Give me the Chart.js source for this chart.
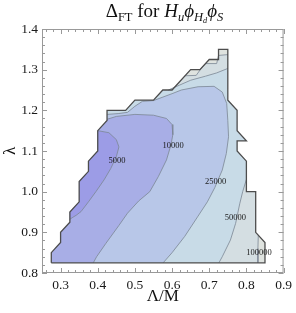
<!DOCTYPE html>
<html>
<head>
<meta charset="utf-8">
<script src="https://cdn.jsdelivr.net/npm/chart.js@4.4.0/dist/chart.umd.min.js"></script>
<style>
  body { margin: 0; background: #fff; }
  #wrap { position: relative; width: 296px; height: 313px; }
  #title {
    position: absolute; left: 42px; top: 0px; width: 245px; text-align: center;
    font: 19px 'Liberation Serif', serif; color: #111; white-space: nowrap;
  }
  #title sub { font-size: 66%; vertical-align: -0.3em; line-height: 0; }
</style>
</head>
<body>
<div id="wrap">
  <canvas id="chart" width="296" height="313"></canvas>
  <div id="title">&Delta;<sub>FT</sub> for <i>H<sub>u</sub>&#x3D5;<sub>H<sub>d</sub></sub>&#x3D5;<sub>S</sub></i></div>
</div>
<script>
'use strict';
// data (x = Λ/M, y = λ)

// outer edge of the scanned region, going round
const edge = [
  [0.275, 0.825], [0.275, 0.85], [0.3, 0.875], [0.3, 0.9], [0.325, 0.925],
  [0.325, 0.95], [0.35, 0.975], [0.35, 1.025], [0.375, 1.05], [0.375, 1.075],
  [0.4, 1.1], [0.4, 1.15], [0.425, 1.175], [0.425, 1.2], [0.475, 1.2],
  [0.5, 1.225], [0.55, 1.225], [0.575, 1.25], [0.6, 1.25], [0.65, 1.3],
  [0.675, 1.3], [0.7, 1.325], [0.725, 1.325], [0.725, 1.35], [0.75, 1.35],
  [0.75, 1.225], [0.775, 1.2], [0.775, 1.15], [0.8, 1.125], [0.775, 1.125],
  [0.775, 1.1], [0.8, 1.075], [0.8, 1.0], [0.825, 1.0], [0.825, 0.9],
  [0.85, 0.875], [0.85, 0.825]
];

// contour lines
const c5000 = [
  [0.43, 1.145], [0.45, 1.128], [0.457, 1.11], [0.45, 1.086], [0.435, 1.057],
  [0.417, 1.029], [0.395, 1.0], [0.375, 0.975], [0.355, 0.951], [0.342, 0.942],
  [0.333, 0.937], [0.325, 0.932]
];
const c10000 = [
  [0.425, 1.178], [0.45, 1.185], [0.5, 1.19], [0.55, 1.188], [0.585, 1.18],
  [0.6, 1.165], [0.602, 1.14], [0.597, 1.115], [0.585, 1.078], [0.563, 1.037],
  [0.54, 1.0], [0.51, 0.977], [0.48, 0.947], [0.457, 0.917], [0.422, 0.873],
  [0.397, 0.84], [0.388, 0.825]
];
const c25000 = [
  [0.425, 1.19], [0.455, 1.192], [0.48, 1.195], [0.5, 1.21], [0.52, 1.222],
  [0.55, 1.224], [0.6, 1.241], [0.625, 1.25], [0.67, 1.258], [0.713, 1.259],
  [0.735, 1.245], [0.747, 1.217], [0.75, 1.175], [0.752, 1.135], [0.746, 1.094],
  [0.735, 1.053], [0.715, 1.01], [0.695, 0.975], [0.67, 0.94], [0.634, 0.89],
  [0.6, 0.85], [0.576, 0.825]
];
const c50000top = [
  [0.59, 1.25], [0.62, 1.262], [0.65, 1.274], [0.69, 1.284], [0.72, 1.292], [0.75, 1.303]
];
const c50000side = [
  [0.8, 1.03], [0.79, 1.0], [0.782, 0.97], [0.771, 0.922], [0.757, 0.881],
  [0.735, 0.84], [0.726, 0.825]
];
const c100000top = [
  [0.635, 1.285], [0.665, 1.286], [0.679, 1.304], [0.69, 1.315], [0.72, 1.315],
  [0.725, 1.335], [0.75, 1.337]
];
const c100000side = [[0.832, 0.893], [0.831, 0.86], [0.831, 0.825]];

// contour labels and where they sit
const levelNames = ['5000', '10000', '25000', '50000', '100000'];
const labelX = [0.452, 0.603, 0.717, 0.77, 0.834];
const labelY = [1.075, 1.112, 1.024, 0.935, 0.849];

// tick labels
const xTicks = [0.3, 0.4, 0.5, 0.6, 0.7, 0.8, 0.9];
const yTicks = [0.8, 0.9, 1.0, 1.1, 1.2, 1.3, 1.4];

// regions below each level, made of part of the edge and the contour
const below100000 = edge.slice(0, 19).concat(c100000top, edge.slice(25, 35), c100000side);
const below50000 = edge.slice(0, 18).concat(c50000top, edge.slice(25, 32), c50000side);
const below25000 = edge.slice(0, 13).concat(c25000);
const below10000 = edge.slice(0, 13).concat(c10000);
const below5000 = edge.slice(5, 12).concat(c5000);

function toPoints(arr, close) {
  const pts = arr.map(p => ({ x: p[0], y: p[1] }));
  if (close) pts.push({ x: arr[0][0], y: arr[0][1] });
  return pts;
}

const datasets = [];
// painted from the outside in
const regions = [
  [edge, '#dfe3df'],
  [below100000, '#d4dee2'],
  [below50000, '#c8dbe7'],
  [below25000, '#b8c7e8'],
  [below10000, '#a8aee6'],
  [below5000, '#9c9ce6']
];
regions.forEach((r, i) => {
  datasets.push({
    data: toPoints(r[0], true),
    backgroundColor: r[1],
    borderWidth: 0,
    fill: 'shape',
    order: 20 - i
  });
});

const lines = [
  [edge[11]].concat(c5000), c10000, c25000, c50000top, c50000side, c100000top, c100000side
];
lines.forEach(l => {
  datasets.push({
    data: toPoints(l, false),
    borderColor: '#7b8794',
    borderWidth: 0.8,
    fill: false,
    order: 5
  });
});

datasets.push({
  data: toPoints(edge, true),
  borderColor: '#4d4d4d',
  borderWidth: 1.3,
  fill: false,
  order: 1
});

// frame with ticks on the inside, on all four sides
const frameTicks = {
  id: 'frameTicks',
  afterDatasetsDraw(chart) {
    const { ctx, chartArea: a, scales } = chart;
    ctx.save();
    ctx.strokeStyle = '#999';
    ctx.lineWidth = 1;
    ctx.strokeRect(a.left + 0.5, a.top + 0.5, a.width - 1, a.height - 1);
    ctx.beginPath();
    for (let i = 13; i <= 45; i++) {
      const len = i % 5 === 0 ? 5 : 3;
      const px = Math.round(scales.x.getPixelForValue(i / 50)) + 0.5;
      ctx.moveTo(px, a.bottom); ctx.lineTo(px, a.bottom - len);
      ctx.moveTo(px, a.top); ctx.lineTo(px, a.top + len);
    }
    for (let i = 40; i <= 70; i++) {
      const len = i % 5 === 0 ? 5 : 3;
      const py = Math.round(scales.y.getPixelForValue(i / 50)) + 0.5;
      ctx.moveTo(a.left, py); ctx.lineTo(a.left + len, py);
      ctx.moveTo(a.right, py); ctx.lineTo(a.right - len, py);
    }
    ctx.stroke();
    ctx.restore();
  }
};

// level labels written over the contours
const contourLabels = {
  id: 'contourLabels',
  afterDatasetsDraw(chart) {
    const { ctx, scales } = chart;
    ctx.save();
    ctx.font = "8.5px 'Liberation Serif', serif";
    ctx.fillStyle = '#1a1a1a';
    ctx.textAlign = 'center';
    ctx.textBaseline = 'middle';
    for (let i = 0; i < levelNames.length; i++) {
      ctx.fillText(levelNames[i], scales.x.getPixelForValue(labelX[i]), scales.y.getPixelForValue(labelY[i]));
    }
    ctx.restore();
  }
};

Chart.defaults.font.family = "'Liberation Serif', serif";

new Chart(document.getElementById('chart'), {
  type: 'line',
  data: { datasets: datasets },
  options: {
    responsive: false,
    animation: false,
    layout: { padding: { top: 29, right: 9, left: 0, bottom: 0 } },
    plugins: { legend: { display: false }, tooltip: { enabled: false } },
    elements: { point: { radius: 0 }, line: { tension: 0 } },
    scales: {
      x: {
        type: 'linear', min: 0.25, max: 0.9,
        grid: { display: false, drawTicks: false },
        border: { display: false },
        ticks: { padding: 4, color: '#1a1a1a', font: { size: 13.5 }, callback: v => v.toFixed(1) },
        afterBuildTicks: s => { s.ticks = xTicks.map(v => ({ value: v })); },
        afterFit: s => { s.height = 40; },
        title: { display: true, text: 'Λ/M', color: '#111', font: { size: 17 }, padding: { top: 0, bottom: 6 } }
      },
      y: {
        type: 'linear', min: 0.8, max: 1.4,
        grid: { display: false, drawTicks: false },
        border: { display: false },
        ticks: { padding: 4, color: '#1a1a1a', font: { size: 13.5 }, callback: v => v.toFixed(1) },
        afterBuildTicks: s => { s.ticks = yTicks.map(v => ({ value: v })); },
        afterFit: s => { s.width = 42; },
        title: { display: true, text: 'λ', color: '#111', font: { size: 17 }, padding: { top: 0, bottom: 0 } }
      }
    }
  },
  plugins: [frameTicks, contourLabels]
});
</script>
</body>
</html>
